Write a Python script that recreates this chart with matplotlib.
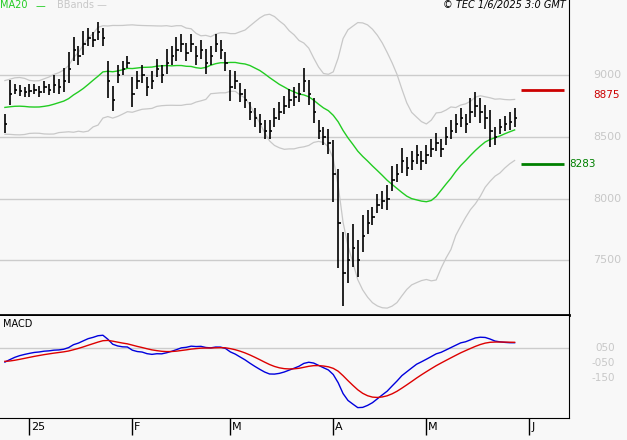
import numpy as np
import pandas as pd
import matplotlib.pyplot as plt

# closes before the visible window (estimated, only feed the indicators)
prior_closes = [8950, 9000, 9050, 8980, 8900, 8850, 8800, 8750, 8800, 8850,
                8900, 8950, 8900, 8850, 8800, 8750, 8700, 8650, 8700, 8650,
                8600, 8650, 8700, 8650, 8600, 8700]
closes = [8600, 8850, 8880, 8870, 8860, 8870, 8880, 8860, 8900, 8880, 8920,
          8900, 8950, 9050, 9200, 9150, 9250, 9300, 9280, 9350, 9300,
          8950, 8800, 9000, 9050, 9100, 8850, 8950, 9000, 8900, 8950,
          9050, 9000, 9100, 9150, 9200, 9250, 9180, 9250, 9150, 9200,
          9100, 9150, 9250, 9200, 9100, 8900, 8950, 8850, 8800, 8700,
          8650, 8600, 8550, 8550, 8650, 8700, 8750, 8800, 8820, 8850,
          8950, 8850, 8700, 8550, 8500, 8450, 8200, 7800, 7400, 7500,
          7600, 7500, 7700, 7800, 7850, 7950, 7980, 8000, 8150, 8200,
          8300, 8250, 8300, 8350, 8300, 8350, 8400, 8450, 8400, 8500,
          8550, 8600, 8650, 8600, 8700, 8750, 8700, 8650, 8550, 8500,
          8580, 8600, 8620, 8650]
ranges = [150, 200, 80, 90, 80, 100, 80, 90, 100, 90, 150,
          120, 200, 250, 200, 150, 200, 150, 120, 150, 150,
          300, 200, 150, 120, 100, 250, 150, 150, 150, 150,
          150, 150, 200, 150, 200, 150, 150, 150, 150, 150,
          200, 150, 150, 150, 150, 250, 150, 150, 150, 150,
          150, 150, 150, 150, 150, 150, 150, 150, 150, 150,
          200, 200, 200, 150, 150, 200, 500, 800, 600, 400,
          350, 300, 300, 200, 150, 150, 150, 200, 200, 150,
          200, 150, 150, 150, 150, 150, 150, 150, 150, 150,
          150, 150, 150, 150, 200, 200, 200, 200, 300, 150,
          120, 120, 150, 150]
tick_pos = [5, 26, 46, 67, 86, 107]
tick_labels = ["25", "F", "M", "A", "M", "J"]
resist, support = 8875, 8283

bg = "#f8f8f8"
n0 = len(prior_closes)
full = pd.Series(prior_closes + closes, dtype=float)
ma_f = full.rolling(20, min_periods=1).mean()
sd_f = full.rolling(20, min_periods=2).std().bfill()
macd_f = full.ewm(span=12).mean() - full.ewm(span=26).mean()
sig_f = macd_f.ewm(span=9).mean()
ma, up, lo = ma_f[n0:], (ma_f + 2 * sd_f)[n0:], (ma_f - 2 * sd_f)[n0:]
macd, sig = macd_f[n0:], sig_f[n0:]
idx = np.arange(len(closes))

fig = plt.figure(figsize=(6.27, 4.40), dpi=100, facecolor=bg)
ax = fig.add_axes([0, 125 / 440, 569 / 627, 315 / 440], facecolor=bg)
ax2 = fig.add_axes([0, 22 / 440, 569 / 627, 102 / 440], facecolor=bg)
xl = (-1.0, 115.1)
gray = "#c8c8c8"

for y in [7500, 8000, 8500, 9000]:
    ax.axhline(y, color="#cccccc", lw=1)
ax.plot(idx, up, color=gray, lw=0.9)
ax.plot(idx, lo, color=gray, lw=0.9)
ax.plot(idx, ma, color="#22cc22", lw=1)
for i, (c, r) in enumerate(zip(closes, ranges)):
    ax.vlines(i, c - r * 0.45, c + r * 0.55, color="black", lw=1.2)
    ax.hlines(c, i, i + 0.5, color="black", lw=1.2)
ax.hlines(resist, 105.3, 114, color="#cc0000", lw=2)
ax.hlines(support, 105.3, 114, color="#008000", lw=2)
ax.set_xlim(*xl)
ax.set_ylim(7057, 9607)
ax.set_xticks([])
ax.set_yticks([])
ax.text(0.0, 1.0, "MA20", color="#22cc22", fontsize=7, transform=ax.transAxes, va="top")
ax.text(0.062, 0.995, "—", color="#22cc22", fontsize=7, transform=ax.transAxes, va="top")
ax.text(0.1, 1.0, "BBands —", color=gray, fontsize=7, transform=ax.transAxes, va="top")
ax.text(0.995, 1.0, "© TEC 1/6/2025 3:0 GMT", fontsize=7, style="italic",
        transform=ax.transAxes, va="top", ha="right")
yt = ax.get_yaxis_transform()
for y in [7500, 8000, 8500, 9000]:
    ax.text(1.042, y, str(y), color=gray, fontsize=8, transform=yt, va="center", clip_on=False)
ax.text(1.042, resist - 35, str(resist), color="#cc0000", fontsize=7.5, transform=yt,
        va="center", clip_on=False)
ax.text(1.0, support, str(support), color="#008000", fontsize=7.5, transform=yt,
        va="center", clip_on=False)
for sp in ax.spines.values():
    sp.set_visible(False)
ax.spines["right"].set_visible(True)
ax.spines["bottom"].set_visible(True)
ax.spines["bottom"].set_linewidth(2)

ax2.axhline(50, color="#cccccc", lw=1)
ax2.plot(idx, macd, color="#0000dd", lw=1)
ax2.plot(idx, sig, color="#dd0000", lw=1)
ax2.set_xlim(*xl)
ax2.set_ylim(-420, 260)
ax2.set_yticks([])
ax2.set_xticks(tick_pos)
ax2.set_xticklabels([])
ax2.tick_params(axis="x", direction="out", length=12, width=1)
for p, t in zip(tick_pos, tick_labels):
    ax2.text(p + 0.4, -0.04, t, transform=ax2.get_xaxis_transform(), fontsize=8, va="top", ha="left")
ax2.text(0.005, 0.97, "MACD", fontsize=7, transform=ax2.transAxes, va="top")
yt2 = ax2.get_yaxis_transform()
for v, t in [(50, "050"), (-50, "-050"), (-150, "-150")]:
    ax2.text(1.08, v, t, color=gray, fontsize=7.5, transform=yt2, va="center", ha="right",
             clip_on=False)
for sp in ["top", "left"]:
    ax2.spines[sp].set_visible(False)

fig.savefig("out.png", dpi=100, facecolor=bg)
